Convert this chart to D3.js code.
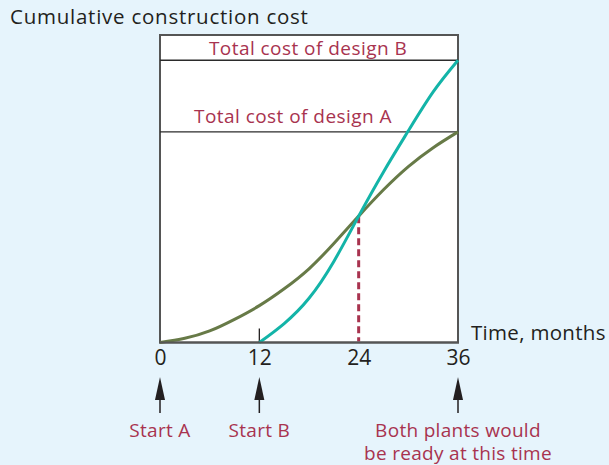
<!DOCTYPE html>
<html>
<head>
<meta charset="utf-8">
<script src="https://cdn.jsdelivr.net/npm/d3@7"></script>
<style>
  html, body { margin: 0; padding: 0; background: #e6f4fc; }
  svg { display: block; }
  text { font-family: "Open Sans", "Noto Sans", sans-serif; }
</style>
</head>
<body>
<svg id="chart" width="609" height="465"></svg>
<script>
// Cumulative construction cost (index: total cost of design A = 100)
const monthsA = [0, 3, 6, 9, 12, 15, 18, 21, 24, 27, 30, 33, 36];
const costA   = [0, 2, 5.5, 11, 17.5, 25.5, 35, 47, 60, 72.5, 83.5, 92.5, 100];
const monthsB = [12, 15, 18, 21, 24, 27, 30, 33, 36];
const costB   = [0, 9, 21, 38.5, 60, 81, 100.5, 119, 134];

const totalA = 100;
const totalB = 134;
const crossMonth = 24;
const crossCost = 60;

const tickMonths = [0, 12, 24, 36];
const markers = [
  { month: 0,  lines: ["Start A"] },
  { month: 12, lines: ["Start B"] },
  { month: 36, lines: ["Both plants would", "be ready at this time"] }
];

const svg = d3.select("#chart");
const plotL = 160, plotR = 458, plotT = 35, plotB = 342.5;

const x = d3.scaleLinear().domain([0, 36]).range([plotL, plotR]);
const y = d3.scaleLinear().domain([0, 146]).range([plotB, plotT]);

const red = "#a8334f";
const ink = "#231f20";

// Plot frame
svg.append("rect")
  .attr("x", plotL).attr("y", plotT)
  .attr("width", plotR - plotL).attr("height", plotB - plotT)
  .attr("fill", "#ffffff")
  .attr("stroke", "#555555").attr("stroke-width", 2);

// Total cost reference lines
[totalA, totalB].forEach(v => {
  svg.append("line")
    .attr("x1", plotL).attr("x2", plotR)
    .attr("y1", y(v)).attr("y2", y(v))
    .attr("stroke", "#2b2b2b").attr("stroke-width", 1.4);
});

svg.append("text")
  .attr("x", 308).attr("y", y(totalB) - 5)
  .attr("text-anchor", "middle").attr("fill", red)
  .attr("font-size", 19).attr("letter-spacing", 0.45)
  .text("Total cost of design B");

svg.append("text")
  .attr("x", 293).attr("y", y(totalA) - 9)
  .attr("text-anchor", "middle").attr("fill", red)
  .attr("font-size", 19).attr("letter-spacing", 0.45)
  .text("Total cost of design A");

// Start-B tick mark on the time axis
svg.append("line")
  .attr("x1", x(12)).attr("x2", x(12))
  .attr("y1", plotB).attr("y2", plotB - 14)
  .attr("stroke", ink).attr("stroke-width", 1.3);

// Dashed drop line from the crossing point
svg.append("line")
  .attr("x1", x(crossMonth)).attr("x2", x(crossMonth))
  .attr("y1", y(crossCost)).attr("y2", plotB - 1)
  .attr("stroke", red).attr("stroke-width", 3)
  .attr("stroke-dasharray", "7,4");

// Cost curves
const line = d3.line()
  .x(d => x(d[0])).y(d => y(d[1]))
  .curve(d3.curveNatural);

svg.append("path")
  .datum(monthsA.map((m, i) => [m, costA[i]]))
  .attr("d", line)
  .attr("fill", "none").attr("stroke", "#677a47").attr("stroke-width", 3);

svg.append("path")
  .datum(monthsB.map((m, i) => [m, costB[i]]))
  .attr("d", line)
  .attr("fill", "none").attr("stroke", "#13b4a8").attr("stroke-width", 3);

// Redraw the frame's bottom edge over the curves' ends
svg.append("line")
  .attr("x1", plotL - 1).attr("x2", plotR + 1)
  .attr("y1", plotB).attr("y2", plotB)
  .attr("stroke", "#555555").attr("stroke-width", 2);

// Time axis labels
const axis = d3.axisBottom(x).tickValues(tickMonths).tickSize(0).tickPadding(8);
const axisG = svg.append("g").attr("transform", `translate(0,${plotB})`).call(axis);
axisG.select(".domain").remove();
axisG.selectAll("text")
  .attr("font-size", 21).attr("fill", ink)
  .style("font-family", "'Open Sans', 'Noto Sans', sans-serif");

svg.append("text")
  .attr("x", 471).attr("y", 340)
  .attr("fill", ink).attr("font-size", 20.5).attr("letter-spacing", 0.3)
  .text("Time, months");

svg.append("text")
  .attr("x", 10).attr("y", 24)
  .attr("fill", ink).attr("font-size", 20.5).attr("letter-spacing", 0.75)
  .text("Cumulative construction cost");

// Event arrows and labels
markers.forEach(mk => {
  const cx = x(mk.month);
  svg.append("line")
    .attr("x1", cx).attr("x2", cx)
    .attr("y1", 395).attr("y2", 413)
    .attr("stroke", ink).attr("stroke-width", 1.5);
  svg.append("path")
    .attr("d", `M${cx},377 L${cx - 5},400 L${cx + 5},400 Z`)
    .attr("fill", ink);
  const t = svg.append("text")
    .attr("x", cx).attr("y", 436.5)
    .attr("text-anchor", "middle").attr("fill", red)
    .attr("font-size", 19).attr("letter-spacing", 0.3);
  mk.lines.forEach((s, i) => {
    t.append("tspan").attr("x", cx).attr("dy", i === 0 ? 0 : 23.5).text(s);
  });
});
</script>
</body>
</html>
